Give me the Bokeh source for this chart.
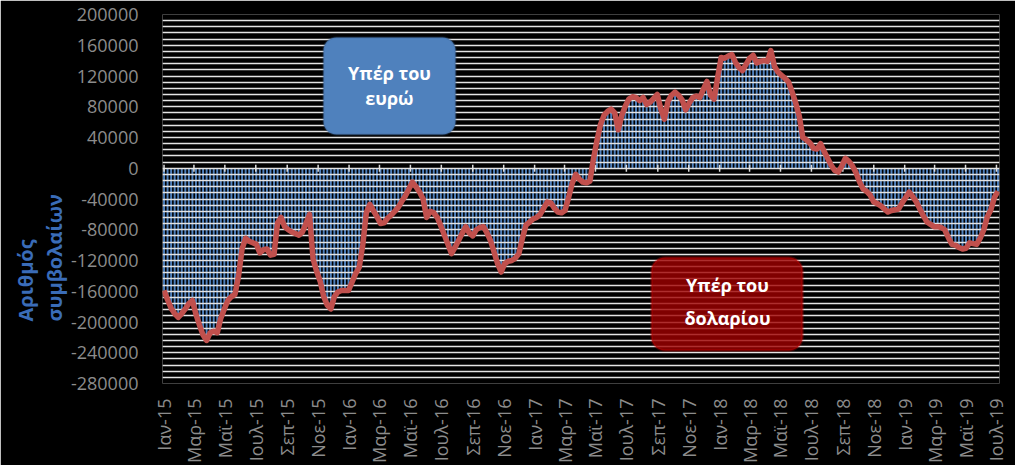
import math
import pandas as pd
from bokeh.plotting import figure
from bokeh.models import FixedTicker, NumeralTickFormatter, Range1d, BoxAnnotation, Label, Title
from bokeh.embed import file_html
from bokeh.resources import INLINE

# ---------------- data ----------------
start_date = "2015-01-06"   # weekly observations (Tuesdays)
net_positions = [
    -159000, -171000, -182000, -189000, -194000, -189000, -183000, -176000, -172000, -190000,
    -204000, -217000, -224000, -214000, -212000, -214000, -195000, -183000, -172000, -167000,
    -164000, -140000, -105000, -91000, -95000, -97000, -99000, -110000, -106000, -105000,
    -113000, -112000, -71000, -64000, -76000, -80000, -83000, -85000, -87000, -83000,
    -72000, -60000, -118000, -134000, -147000, -167000, -178000, -183000, -167000, -161000,
    -159000, -159000, -159000, -148000, -137000, -129000, -100000, -58000, -47000, -55000,
    -63000, -72000, -71000, -65000, -61000, -56000, -51000, -43000, -36000, -27000,
    -18000, -24000, -31000, -40000, -64000, -56000, -58000, -64000, -75000, -87000,
    -99000, -111000, -103000, -94000, -85000, -76000, -84000, -88000, -80000, -77000,
    -76000, -84000, -94000, -109000, -124000, -135000, -124000, -121000, -120000, -117000,
    -111000, -91000, -74000, -70000, -66000, -64000, -60000, -52000, -44000, -45000,
    -52000, -57000, -58000, -55000, -38000, -20000, -8000, -14000, -18000, -19000,
    -17000, 12000, 36000, 57000, 69000, 74000, 77000, 72000, 50000, 69000,
    81000, 90000, 93000, 92000, 88000, 92000, 83000, 86000, 91000, 96000,
    77000, 64000, 87000, 95000, 99000, 95000, 89000, 76000, 85000, 92000,
    94000, 92000, 103000, 113000, 95000, 90000, 118000, 144000, 143000, 146000,
    148000, 138000, 131000, 127000, 135000, 143000, 147000, 137000, 139000, 140000,
    139000, 153000, 133000, 125000, 121000, 117000, 112000, 99000, 85000, 68000,
    40000, 37000, 33000, 26000, 25000, 32000, 22000, 13000, 4000, -3000,
    -5000, 3000, 13000, 9000, 3000, -6000, -18000, -27000, -30000, -35000,
    -44000, -46000, -49000, -53000, -57000, -55000, -54000, -53000, -45000, -38000,
    -31000, -37000, -44000, -53000, -62000, -70000, -73000, -76000, -76000, -77000,
    -80000, -90000, -99000, -100000, -103000, -105000, -104000, -97000, -98000, -99000,
    -91000, -80000, -63000, -54000, -38000, -30000,
]
tick_labels = [
    "Ιαν-15", "Μαρ-15", "Μαϊ-15", "Ιουλ-15", "Σεπ-15", "Νοε-15",
    "Ιαν-16", "Μαρ-16", "Μαϊ-16", "Ιουλ-16", "Σεπ-16", "Νοε-16",
    "Ιαν-17", "Μαρ-17", "Μαϊ-17", "Ιουλ-17", "Σεπ-17", "Νοε-17",
    "Ιαν-18", "Μαρ-18", "Μαϊ-18", "Ιουλ-18", "Σεπ-18", "Νοε-18",
    "Ιαν-19", "Μαρ-19", "Μαϊ-19", "Ιουλ-19",
]
y_ticks = list(range(-280000, 200001, 40000))
y_grid = list(range(-280000, 200001, 8000))
y_title_lines = ["Αριθμός", "συμβολαίων"]
euro_text = "Υπέρ του\nευρώ"
dollar_text = "Υπέρ του\nδολαρίου"

# ---------------- helpers ----------------
def to_ms(ts):
    return (pd.Timestamp(ts) - pd.Timestamp("1970-01-01")) / pd.Timedelta("1ms")

dates = pd.date_range(start_date, periods=len(net_positions), freq="7D")
tick_dates = pd.date_range(start_date, periods=len(tick_labels), freq=pd.DateOffset(months=2))
tick_ms = [int(to_ms(d)) for d in tick_dates]

x_start, x_end = to_ms("2015-01-03"), to_ms("2019-07-12")
y_lo, y_hi = -280000, 200000

# layout (page pixels of the target picture)
ORIGIN = 0
FL, FR, FT, FB = 162, 999, 14, 383
FW, FH = FR - FL, FB - FT
W, H = 1015, 457

def xd(px):
    return x_start + (px - FL) / FW * (x_end - x_start)

def yd(py):
    return y_hi - (py - FT) / FH * (y_hi - y_lo)

FONT = "Open Sans"
GREY = "#8c8c8c"
TITLE_BLUE = "#3a6cb8"

p = figure(
    x_axis_type="datetime",
    frame_width=FW, frame_height=FH,
    min_border_left=FL - ORIGIN, min_border_right=W - (FR - ORIGIN),
    min_border_top=FT - ORIGIN, min_border_bottom=H - (FB - ORIGIN),
    x_range=Range1d(x_start, x_end), y_range=Range1d(y_lo, y_hi),
    output_backend="svg", toolbar_location=None,
    background_fill_color="black", border_fill_color="black",
)
p.outline_line_color = None

# grids
p.xgrid.visible = False
p.ygrid.ticker = FixedTicker(ticks=y_grid)
p.ygrid.grid_line_color = "#e4e4e4"
p.ygrid.grid_line_width = 1.7
p.ygrid.level = "underlay"

# axes
p.yaxis.ticker = FixedTicker(ticks=y_ticks)
p.yaxis.formatter = NumeralTickFormatter(format="0")
p.yaxis.axis_line_color = None
p.yaxis.major_tick_line_color = None
p.yaxis.minor_tick_line_color = None
p.yaxis.major_label_standoff = 18
p.yaxis.major_label_text_font = FONT
p.yaxis.major_label_text_font_size = "18px"
p.yaxis.major_label_text_color = GREY

p.xaxis.ticker = FixedTicker(ticks=tick_ms)
p.xaxis.major_label_overrides = {t: lab for t, lab in zip(tick_ms, tick_labels)}
p.xaxis.major_label_orientation = math.pi / 2
p.xaxis.axis_line_color = None
p.xaxis.major_tick_line_color = None
p.xaxis.minor_tick_line_color = None
p.xaxis.major_label_standoff = 9
p.xaxis.major_label_text_font = FONT
p.xaxis.major_label_text_font_size = "18px"
p.xaxis.major_label_text_color = GREY

# y-axis title: two vertical lines in the left panel (inner line added first)
for txt in reversed(y_title_lines):
    p.add_layout(Title(text=txt, align="left", offset=62, standoff=0,
                       text_color=TITLE_BLUE, text_font=FONT, text_font_style="bold",
                       text_font_size="20px"), "left")

# bars (weekly) and line
week_ms = 7 * 24 * 3600 * 1000
p.vbar(x=dates, top=net_positions, bottom=0, width=week_ms * 0.55,
       fill_color="#4f81bd", line_color=None, level="image")
p.scatter(x=tick_dates, y=[0] * len(tick_dates), marker="dash", angle=math.pi / 2,
          size=7, line_color="#dddddd", line_width=1.5, level="underlay")
p.line(x=dates, y=net_positions, line_color="#c0504d", line_width=5.5, line_join="round")

# annotation boxes
p.add_layout(BoxAnnotation(left=xd(323), right=xd(455), top=yd(37), bottom=yd(134),
                           fill_color="#4f81bd", fill_alpha=1.0,
                           line_color="#3b6090", line_width=2, border_radius=13))
p.add_layout(Label(x=xd(389), y=yd(85), text=euro_text, text_align="center",
                   text_baseline="middle", text_color="white", text_font=FONT,
                   text_font_style="bold", text_font_size="18px", text_line_height=1.05))

p.add_layout(BoxAnnotation(left=xd(651), right=xd(802), top=yd(257), bottom=yd(350),
                           fill_color="#a00000", fill_alpha=0.8,
                           line_color="#d40000", line_width=2.5, border_radius=14))
p.add_layout(Label(x=xd(727), y=yd(301), text=dollar_text, text_align="center",
                   text_baseline="middle", text_color="white", text_font=FONT,
                   text_font_style="bold", text_font_size="18px", text_line_height=1.35))

open("out.html", "w").write(file_html(p, INLINE))
